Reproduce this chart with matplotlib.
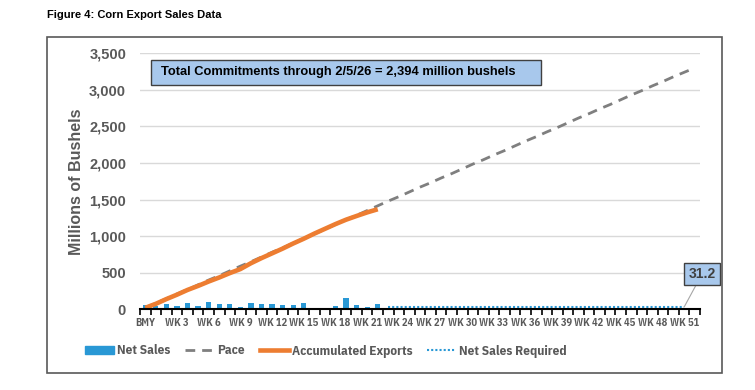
import matplotlib
matplotlib.use("Agg")
import matplotlib.pyplot as plt
from matplotlib.patches import Patch, Rectangle
from matplotlib.lines import Line2D

# Kategorien: BMY, WK 1 .. WK 52
weeks = ["BMY"] + [f"WK {i}" for i in range(1, 53)]
tick_labels = [w if i % 3 == 0 else "" for i, w in enumerate(weeks)]

# Wöchentliche Net Sales (BMY .. WK 22), Mio. Bushel
net_sales = [60, 45, 70, 50, 85, 50, 105, 70, 75, 38, 90, 68, 68, 55, 65, 85,
             20, 10, 40, 150, 58, 36, 78]

# Akkumulierte Exporte (BMY .. WK 22)
acc_exports = [20, 75, 140, 200, 265, 320, 380, 435, 495, 550, 630, 700, 765,
               830, 900, 965, 1035, 1100, 1165, 1225, 1276, 1325, 1368]

# Pace (BMY .. WK 52)
pace = [20, 85, 145, 210, 270, 335, 400, 460, 525, 590, 650, 715, 780, 840,
        905, 970, 1030, 1095, 1160, 1225, 1285, 1350, 1415, 1480, 1540, 1605,
        1670, 1730, 1795, 1855, 1920, 1985, 2045, 2110, 2170, 2235, 2300, 2360,
        2425, 2485, 2550, 2615, 2675, 2740, 2800, 2865, 2930, 2990, 3055, 3115,
        3180, 3240, 3300]

# Benötigte Net Sales pro Woche (WK 23 .. WK 51)
req_start = 23
net_sales_required = [31.2] * 29

BLUE = "#2998D5"
ORANGE = "#ED7D31"
GRAY = "#7F7F7F"
TXT = "#595959"
BOXBLUE = "#A8C8EC"
FONT = ["Liberation Sans", "DejaVu Sans"]
NARROW = ["IBM Plex Sans Condensed", "Liberation Sans", "DejaVu Sans"]

fig = plt.figure(figsize=(7.55, 3.9), dpi=100)
ax = fig.add_axes([140 / 755, 1 - 309.3 / 390, 560 / 755, 256 / 390])

x_ns = list(range(len(net_sales)))
x_acc = list(range(len(acc_exports)))
x_pace = list(range(len(pace)))
x_req = list(range(req_start, req_start + len(net_sales_required)))

ax.bar(x_ns, net_sales, width=0.5, color=BLUE, zorder=2)
ax.plot(x_pace, pace, color=GRAY, lw=2.0, dashes=(3.5, 2.5), zorder=3)
ax.plot(x_acc, acc_exports, color=ORANGE, lw=3.3, solid_capstyle="butt", zorder=4)
ax.plot(x_req, net_sales_required, color=BLUE, lw=1.5, linestyle=(0, (1, 1)), zorder=3)

# Datenbeschriftung am letzten Punkt
ax.annotate(f"{net_sales_required[-1]:.1f}", xy=(x_req[-1], net_sales_required[-1]),
            xytext=(13, 24), textcoords="offset points", ha="center", va="center",
            fontsize=10, fontweight="bold", color="#404040", family=FONT,
            bbox=dict(boxstyle="square,pad=0.3", fc=BOXBLUE, ec="#404040", lw=1),
            arrowprops=dict(arrowstyle="-", color="#A6A6A6", lw=0.8, shrinkA=0, shrinkB=0))

# Textbox
ax.add_patch(Rectangle((11 / 560, (309.3 - 85) / 256), 390 / 560, 25 / 256,
                       transform=ax.transAxes, fc=BOXBLUE, ec="#404040", lw=1, zorder=5))
ax.text(21 / 560, (309.3 - 72.5) / 256,
        "Total Commitments through 2/5/26 = 2,394 million bushels",
        transform=ax.transAxes, ha="left", va="center", fontsize=9.3,
        fontweight="bold", color="black", family=FONT, zorder=6)

ax.set_xlim(-0.5, 52.5)
ax.set_ylim(0, 3500)
ax.set_yticks(range(0, 3501, 500))
ax.set_yticklabels([f"{v:,}" for v in range(0, 3501, 500)], fontsize=10.5,
                   fontweight="bold", color=TXT, family=FONT)
ax.set_xticks(range(len(weeks)))
ax.set_xticklabels(tick_labels, fontsize=7.5, fontweight="bold", color=TXT, family=NARROW)
ax.set_xticks([i - 0.5 for i in range(len(weeks) + 1)], minor=True)
ax.tick_params(axis="x", which="major", length=0, pad=6)
ax.tick_params(axis="x", which="minor", length=4, width=1.2, color="black", direction="out")
ax.tick_params(axis="y", length=0, pad=10)

ax.grid(axis="y", color="#D9D9D9", lw=1)
ax.set_axisbelow(True)
for s in ["top", "right", "left"]:
    ax.spines[s].set_visible(False)
ax.spines["bottom"].set_color("black")
ax.spines["bottom"].set_linewidth(1.5)
ax.spines["bottom"].set_zorder(5)

ax.set_ylabel("Millions of Bushels", fontsize=11.5, fontweight="bold", color=TXT, family=FONT)
ax.yaxis.set_label_coords(-0.1, 0.5)

handles = [
    Patch(color=BLUE),
    Line2D([], [], color=GRAY, lw=2.0, dashes=(3.5, 2.5)),
    Line2D([], [], color=ORANGE, lw=3.3),
    Line2D([], [], color=BLUE, lw=1.5, linestyle=(0, (1, 1))),
]
labels = ["Net Sales", "Pace", "Accumulated Exports", "Net Sales Required"]
fig.legend(handles, labels, loc="center", bbox_to_anchor=(326 / 755, 1 - 351 / 390), ncol=4,
           frameon=False, handlelength=2.2, handleheight=0.5, handletextpad=0.2,
           columnspacing=1.15, prop=dict(family=NARROW, weight="bold", size=9.5),
           labelcolor=TXT)

fig.text(47 / 755, 1 - 15 / 390, "Figure 4: Corn Export Sales Data", ha="left", va="center",
         fontsize=8, fontweight="bold", color="black", family=FONT)
fig.patches.append(Rectangle((47 / 755, 1 - 373 / 390), 675 / 755, 336 / 390,
                             transform=fig.transFigure, fill=False, ec="#595959", lw=1.2))

fig.savefig("out.png", dpi=100)
